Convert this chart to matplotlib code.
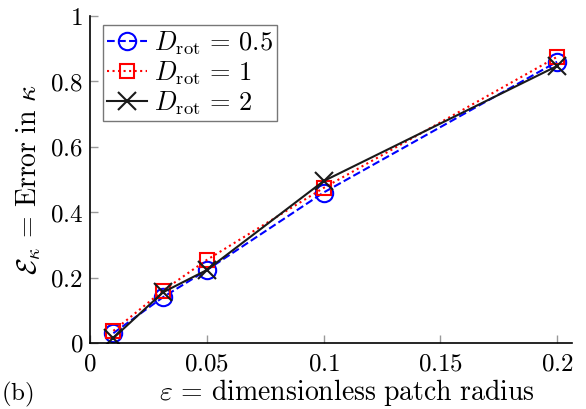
import numpy as np
import matplotlib
matplotlib.use('Agg')
import matplotlib.pyplot as plt

plt.rcParams['mathtext.fontset'] = 'cm'
plt.rcParams['font.family'] = 'serif'
plt.rcParams['font.serif'] = ['DejaVu Serif']

# dimensionless patch radius
eps = [0.01, 0.03125, 0.05, 0.1, 0.2]
# error in kappa for each rotational diffusion
err_d05 = [0.030, 0.140, 0.223, 0.460, 0.860]
err_d1 = [0.037, 0.160, 0.254, 0.474, 0.875]
err_d2 = [0.015, 0.155, 0.223, 0.495, 0.847]

xticks = [0, 0.05, 0.1, 0.15, 0.2]
xticklabels = ['$0$', '$0.05$', '$0.1$', '$0.15$', '$0.2$']
yticks = [0, 0.2, 0.4, 0.6, 0.8, 1]
yticklabels = ['$0$', '$0.2$', '$0.4$', '$0.6$', '$0.8$', '$1$']

fs = 18
fs_lab = 20

fig = plt.figure(figsize=(5.86, 4.09), dpi=100)
ax = fig.add_axes([0.1536, 0.1614, 0.8225, 0.7995])

ax.plot(eps, err_d05, '--o', color='blue', mfc='none', ms=12.5, mew=1.5, lw=1.5,
        label=r'$D_{\mathrm{rot}}\,=\,0.5$')
ax.plot(eps, err_d1, ':s', color='red', mfc='none', ms=9.5, mew=1.5, lw=1.5,
        label=r'$D_{\mathrm{rot}}\,=\,1$')
ax.plot(eps, err_d2, '-x', color='#1a1a1a', ms=12.5, mew=1.5, lw=1.5,
        label=r'$D_{\mathrm{rot}}\,=\,2$')

ax.set_xlim(0, 0.2064)
ax.set_ylim(0, 1)
ax.set_xticks(xticks)
ax.set_xticklabels(xticklabels, fontsize=fs)
ax.set_yticks(yticks)
ax.set_yticklabels(yticklabels, fontsize=fs)
ax.tick_params(direction='in', length=6, color='#999999', width=1, pad=5)
ax.tick_params(axis='x', pad=7)
ax.spines['top'].set_visible(False)
ax.spines['right'].set_visible(False)
for s in ['left', 'bottom']:
    ax.spines[s].set_linewidth(1.2)

ax.set_xlabel(r'$\varepsilon\,=\,\mathrm{dimensionless\ patch\ radius}$', fontsize=fs_lab)
ax.xaxis.set_label_coords(0.533, -0.103)
ax.set_ylabel(r'$\mathcal{E}_\kappa\,=\,\mathrm{Error\ in}\ \kappa$', fontsize=fs_lab, labelpad=5)

fig.text(0.002, 0.022, r'$\mathrm{(b)}$', fontsize=fs)

leg = ax.legend(loc='upper left', bbox_to_anchor=(0.027, 0.972), fontsize=19,
                frameon=True, fancybox=False, handlelength=1.5, handletextpad=0.3,
                borderpad=0.15, labelspacing=0.1, borderaxespad=0)
leg.get_frame().set_edgecolor('#555555')
leg.get_frame().set_linewidth(1.0)

fig.savefig('out.png', dpi=100)
